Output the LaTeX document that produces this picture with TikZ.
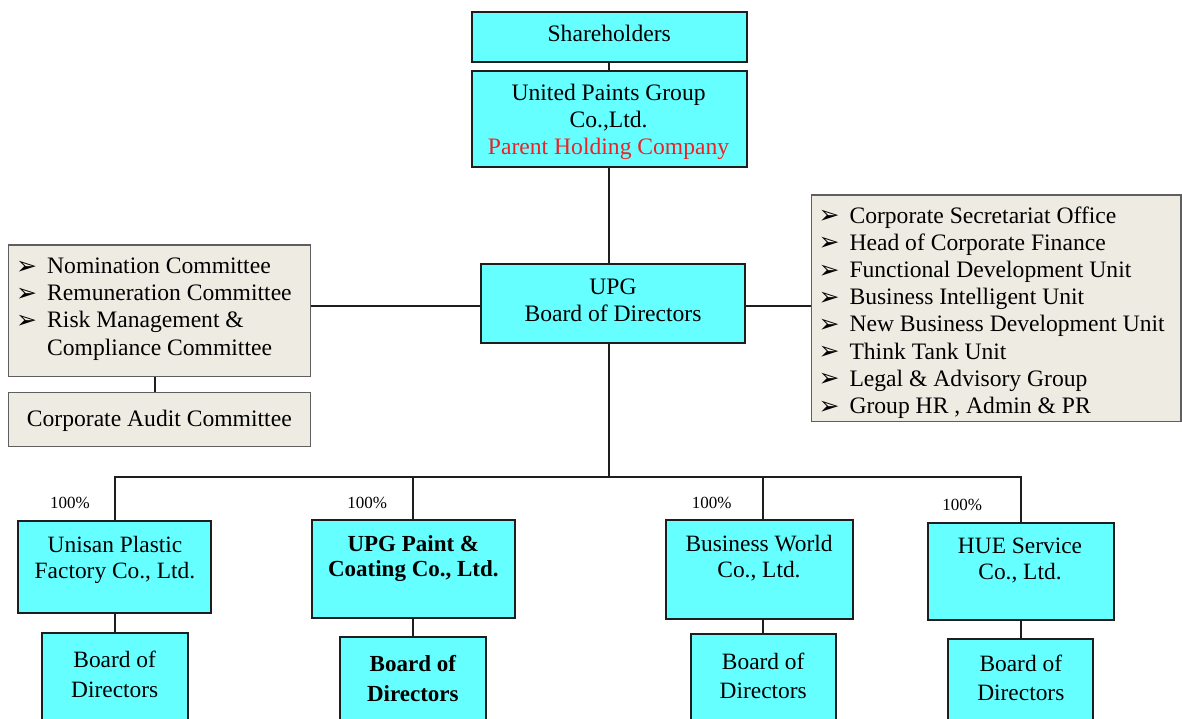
\documentclass[tikz,border=0pt]{standalone}
\usepackage{fontspec}
\setmainfont{Liberation Serif}
\newfontfamily\dejavu{DejaVu Sans}
\definecolor{cyanfill}{RGB}{102,255,255}
\definecolor{beigefill}{RGB}{238,236,226}
\definecolor{beigeline}{RGB}{95,95,95}
\definecolor{redtxt}{RGB}{235,35,40}
\definecolor{linecol}{RGB}{30,30,30}
\newcommand\bulitem[1]{\makebox[31pt][l]{\raisebox{-0.5pt}{\dejavu\bfseries\fontsize{25}{25}\selectfont ➢}}#1}
\begin{document}
\begin{tikzpicture}[x=1pt,y=-1pt,
  cbox/.style={draw=linecol,line width=2.2pt,fill=cyanfill,inner sep=0pt},
  gbox/.style={draw=beigeline,line width=1.4pt,fill=beigefill,inner sep=0pt},
  txt/.style={font=\fontsize{23.6}{27.3}\selectfont,align=center,inner sep=0pt},
  subtxt/.style={font=\fontsize{23.4}{26}\selectfont,align=center,inner sep=0pt},
  bodtxt/.style={font=\fontsize{23.4}{29.5}\selectfont,align=center,inner sep=0pt},
  listtxt/.style={font=\fontsize{23.6}{27.2}\selectfont,align=left,inner sep=0pt,anchor=west},
  pct/.style={font=\fontsize{17}{20}\selectfont,inner sep=0pt},
  link/.style={draw=linecol,line width=2pt}]
\useasboundingbox (0,0) rectangle (1182,718);
\clip (0,0) rectangle (1182,718);
\fill[white] (0,0) rectangle (1182,718);

% top boxes
\node[cbox,minimum width=275pt,minimum height=50pt] (sh) at (609.2,36.7) {};
\node[txt] (shT) at (609.2,33.3) {Shareholders};
\node[cbox,minimum width=275pt,minimum height=96pt] (parent) at (609.2,118.7) {};
\node[txt] (parentT) at (608.6,122) {United Paints Group\\Co.,Ltd.\\\textcolor{redtxt}{Parent Holding Company}};
\node[cbox,minimum width=264pt,minimum height=78.7pt] (board) at (613,303.3) {};
\node[txt] (boardT) at (613,300.5) {UPG\\Board of Directors};

% side boxes
\node[gbox,minimum width=302.4pt,minimum height=131.7pt] (left) at (159.5,310.85) {};
\node[listtxt] (leftT) at (16,309) {\bulitem{Nomination Committee}\\\bulitem{Remuneration Committee}\\\bulitem{Risk Management \&}\\\hspace*{31pt}Compliance Committee};
\node[gbox,minimum width=302.4pt,minimum height=54.4pt] (audit) at (159.5,419.5) {};
\node[txt] (auditT) at (159.3,421) {Corporate Audit Committee};
\node[gbox,minimum width=369.3pt,minimum height=226.7pt] (right) at (996.35,308.35) {};
\node[listtxt] (rightT) at (818.3,312.5) {\bulitem{Corporate Secretariat Office}\\\bulitem{Head of Corporate Finance}\\\bulitem{Functional Development Unit}\\\bulitem{Business Intelligent Unit}\\\bulitem{New Business Development Unit}\\\bulitem{Think Tank Unit}\\\bulitem{Legal \& Advisory Group}\\\bulitem{Group HR , Admin \& PR}};

% subsidiaries
\node[cbox,minimum width=192.4pt,minimum height=92pt] (s1) at (114.5,566.7) {};
\node[subtxt] (s1T) at (115,560) {Unisan Plastic\\Factory Co., Ltd.};
\node[cbox,minimum width=203.3pt,minimum height=97.7pt] (s2) at (413.35,568.85) {};
\node[subtxt,font=\fontsize{23}{24.5}\selectfont\bfseries] (s2T) at (413.35,558.5) {UPG Paint \&\\Coating Co., Ltd.};
\node[cbox,minimum width=187.3pt,minimum height=99pt] (s3) at (759.65,569.5) {};
\node[subtxt] (s3T) at (759,558.5) {Business World\\Co., Ltd.};
\node[cbox,minimum width=185.7pt,minimum height=97.3pt] (s4) at (1021.15,571.35) {};
\node[subtxt] (s4T) at (1020,561) {HUE Service\\Co., Ltd.};

% percentages
\node[pct] (p1) at (70,503) {100\%};
\node[pct] (p2) at (367.2,503) {100\%};
\node[pct] (p3) at (711.7,502.7) {100\%};
\node[pct] (p4) at (962.2,505) {100\%};

% boards of subsidiaries (cut by the lower edge)
\node[cbox,minimum width=146pt,minimum height=106.7pt] (b1) at (114.7,686.65) {};
\node[bodtxt] (b1T) at (114.7,674.5) {Board of\\Directors};
\node[cbox,minimum width=145.7pt,minimum height=103.3pt] (b2) at (412.85,688.35) {};
\node[bodtxt,font=\fontsize{23}{30}\selectfont\bfseries] (b2T) at (412.85,678.5) {Board of\\Directors};
\node[cbox,minimum width=145pt,minimum height=105.7pt] (b3) at (763.2,687.15) {};
\node[bodtxt] (b3T) at (763.2,676) {Board of\\Directors};
\node[cbox,minimum width=145pt,minimum height=100.7pt] (b4) at (1020.8,689.65) {};
\node[bodtxt] (b4T) at (1020.8,678) {Board of\\Directors};

% connectors
\coordinate (bus) at (609.2,476.7);
\draw[link] (sh) -- (parent);
\draw[link] (parent.south) -- (parent.south |- board.north);
\draw[link] ([yshift=-2.7pt]board.west) -- ([yshift=-2.7pt]board.west -| left.east);
\draw[link] ([yshift=-2.7pt]board.east) -- ([yshift=-2.7pt]board.east -| right.west);
\draw[link] ([xshift=-4.5pt]left.south) -- ([xshift=-4.5pt]audit.north);
\draw[link] (board.south -| bus) -- (bus);
\draw[link] (b1.north |- s1.north) -- (b1.north |- bus) -- (b4.north |- bus) -- (b4.north |- s4.north);
\draw[link] (b2.north |- s2.north) -- (b2.north |- bus);
\draw[link] (b3.north |- s3.north) -- (b3.north |- bus);
\draw[link] (b1.north |- s1.south) -- (b1.north);
\draw[link] (b2.north |- s2.south) -- (b2.north);
\draw[link] (b3.north |- s3.south) -- (b3.north);
\draw[link] (b4.north |- s4.south) -- (b4.north);
\end{tikzpicture}
\end{document}
